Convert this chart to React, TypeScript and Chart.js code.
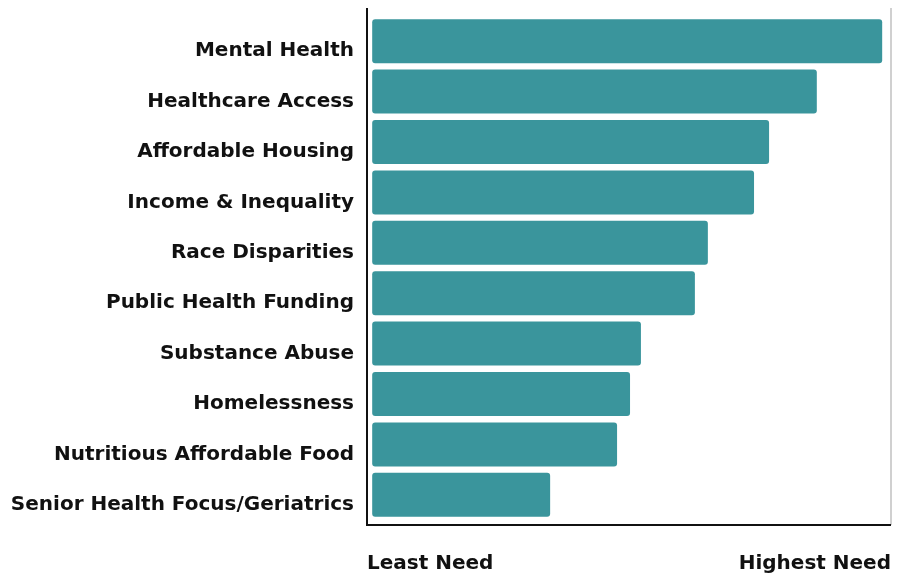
import React, { useEffect, useRef } from "react";
import { Chart, registerables } from "chart.js";

Chart.register(...registerables);

const categories = [
  "Mental Health",
  "Healthcare Access",
  "Affordable Housing",
  "Income & Inequality",
  "Race Disparities",
  "Public Health Funding",
  "Substance Abuse",
  "Homelessness",
  "Nutritious Affordable Food",
  "Senior Health Focus/Geriatrics",
];
const needScores = [98.3, 85.7, 76.5, 73.6, 64.7, 62.2, 51.8, 49.7, 47.2, 34.3];
const axisEndLabels = ["Least Need", "Highest Need"];

const FONT = "'DejaVu Sans', sans-serif";
const BAR_COLOR = "#3A959C";

const framePlugin = {
  id: "frame",
  afterDraw(chart: any) {
    const { ctx, chartArea } = chart;
    const { left, right, top, bottom } = chartArea;
    ctx.save();
    ctx.strokeStyle = "#d0d0d0";
    ctx.lineWidth = 2;
    ctx.beginPath();
    ctx.moveTo(right, top - 8);
    ctx.lineTo(right, bottom + 5);
    ctx.stroke();
    ctx.strokeStyle = "#111";
    ctx.lineWidth = 2;
    ctx.beginPath();
    ctx.moveTo(left, top - 8);
    ctx.lineTo(left, bottom + 6);
    ctx.stroke();
    ctx.beginPath();
    ctx.moveTo(left - 1, bottom + 5);
    ctx.lineTo(right, bottom + 5);
    ctx.stroke();
    ctx.restore();
  },
};

const zeroPad = (scale: any) => {
  scale.paddingLeft = 0;
  scale.paddingRight = 0;
  scale.paddingTop = 0;
  scale.paddingBottom = 0;
};

export default function App() {
  const ref = useRef<HTMLCanvasElement>(null);
  useEffect(() => {
    if (!ref.current) return;
    const chart = new Chart(ref.current, {
      type: "bar",
      data: {
        labels: categories,
        datasets: [
          {
            data: needScores,
            backgroundColor: BAR_COLOR,
            borderRadius: 3,
            borderSkipped: false,
            categoryPercentage: 1,
            barPercentage: 0.873,
            base: 0,
          },
        ],
      },
      options: {
        indexAxis: "y",
        animation: false,
        responsive: true,
        maintainAspectRatio: false,
        layout: { padding: { top: 16, right: 12, left: 0, bottom: 0 } },
        plugins: {
          legend: { display: false },
          tooltip: { enabled: false },
        },
        scales: {
          x: {
            min: -1,
            max: 100,
            grid: { display: false, drawTicks: false },
            border: { display: false },
            afterBuildTicks: (scale: any) => {
              scale.ticks = [{ value: scale.min }, { value: scale.max }];
            },
            afterFit: (scale: any) => {
              scale.height = 55;
              zeroPad(scale);
            },
            ticks: {
              autoSkip: false,
              maxRotation: 0,
              align: "inner",
              padding: 32,
              color: "#111",
              font: { family: FONT, size: 20, weight: "bold" },
              callback: (_v: any, i: number) => axisEndLabels[i],
            },
          },
          y: {
            grid: { display: false, drawTicks: false },
            border: { display: false },
            afterFit: (scale: any) => {
              scale.width = 367;
              zeroPad(scale);
            },
            ticks: {
              padding: 13,
              labelOffset: 10,
              color: "#111",
              font: { family: FONT, size: 20, weight: "bold" },
            },
          },
        },
      },
      plugins: [framePlugin],
    });
    return () => chart.destroy();
  }, []);
  return (
    <div style={{ position: "fixed", left: 0, top: 0, width: 903, height: 575 }}>
      <canvas ref={ref} />
    </div>
  );
}
